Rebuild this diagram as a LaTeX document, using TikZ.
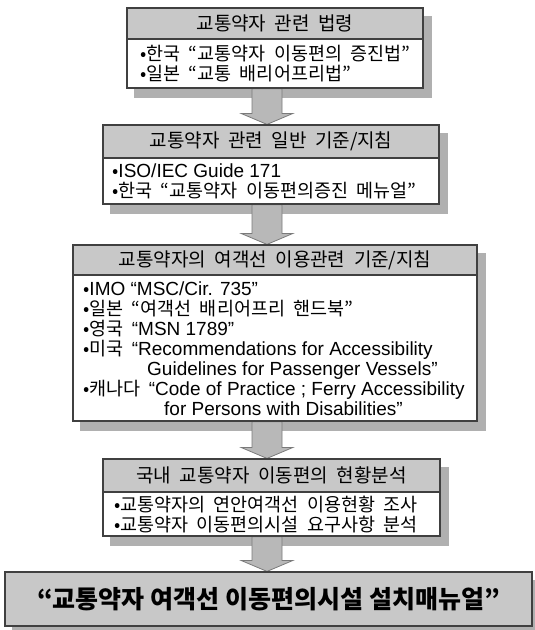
\documentclass[tikz,border=0pt]{standalone}
\usepackage{fontspec}
\setmainfont{Noto Sans CJK KR}
\newfontfamily\lat{Liberation Sans}
\usetikzlibrary{calc}
\pgfdeclarelayer{shadowlayer}
\pgfdeclarelayer{arrowlayer}
\pgfsetlayers{shadowlayer,arrowlayer,main}
\definecolor{headgray}{HTML}{C8C8C8}
\definecolor{shadowc}{HTML}{B0B0B0}
\definecolor{arrowfill}{HTML}{B8B8B8}
\definecolor{arrowedge}{HTML}{7A7A7A}
\definecolor{framecol}{HTML}{404040}
\newcommand{\lt}[1]{{\lat\fontsize{19}{20}\selectfont\spaceskip=0pt\relax #1}}
\newcommand{\korfont}[1]{\fontsize{#1}{20}\selectfont\spaceskip=0.45em plus 0.1em\relax}
\newcommand{\blockarr}[2]{%
  \draw[blockarrow]
    ($(ax |- #1.south)+(-15,0)$) --
    ($(ax |- #2.north)+(-15,-11)$) --
    ($(ax |- #2.north)+(-26,-11)$) --
    (ax |- #2.north) --
    ($(ax |- #2.north)+(26,-11)$) --
    ($(ax |- #2.north)+(15,-11)$) --
    ($(ax |- #1.south)+(15,0)$) -- cycle;}
\newcommand{\dropshadow}[2]{%
  \fill[shadowc] ($(#1.north west)+(8,9)$) rectangle ($(#2.south east)+(8,9)$);}
\begin{document}
\begin{tikzpicture}[x=1pt,y=-1pt,
  hdr/.style={draw=framecol, line width=1.2pt, fill=headgray, inner sep=0pt,
    font=\korfont{19}},
  bodybox/.style={draw=framecol, line width=1.2pt, fill=white, inner sep=0pt},
  bodytext/.style={anchor=west, align=left, inner sep=0pt,
    font=\korfont{18.5}},
  blockarrow/.style={fill=arrowfill, draw=arrowedge, line width=0.8pt, line join=miter},
  finalbox/.style={draw=framecol, line width=1.2pt, fill=headgray, inner sep=0pt,
    font=\fontsize{25}{30}\selectfont\bfseries}]
\useasboundingbox (0,0) rectangle (535,630);
\coordinate (ax) at (267,0);

% Box 1
\node[hdr, minimum width=296pt, minimum height=31pt] (h1) at (275,23.5) {교통약자 관련 법령};
\node[bodybox, minimum width=296pt, minimum height=49pt] (b1) at (275,63.5) {};
\node[bodytext] (t1) at (140,63.5) {•한국 “교통약자 이동편의 증진법”\\•일본 “교통 배리어프리법”};

% Box 2
\node[hdr, minimum width=336pt, minimum height=33pt] (h2) at (271,141.5) {교통약자 관련 일반 기준/지침};
\node[bodybox, minimum width=336pt, minimum height=46pt] (b2) at (271,181) {};
\node[bodytext] (t2) at (112,181) {•\lt{ISO/IEC Guide 171}\\•한국 “교통약자 이동편의증진 메뉴얼”};

% Box 3
\node[hdr, minimum width=404pt, minimum height=30pt] (h3) at (275,260) {교통약자의 여객선 이용관련 기준/지침};
\node[bodybox, minimum width=404pt, minimum height=146pt] (b3) at (275,348) {};
\node[bodytext] (t3) at (83,349) {%
  •\lt{IMO “MSC/Cir. 735”}\\
  •일본 “여객선 배리어프리 핸드북”\\
  •영국 \lt{“MSN 1789”}\\
  •미국 \lt{“Recommendations for Accessibility}\\
  \hspace*{64pt}\lt{Guidelines for Passenger Vessels”}\\
  •캐나다 \lt{“Code of Practice ; Ferry Accessibility}\\
  \hspace*{81pt}\lt{for Persons with Disabilities”}};

% Box 4
\node[hdr, minimum width=337pt, minimum height=33pt] (h4) at (271.5,475.5) {국내 교통약자 이동편의 현황분석};
\node[bodybox, minimum width=337pt, minimum height=44pt] (b4) at (271.5,514) {};
\node[bodytext] (t4) at (114,515) {•교통약자의 연안여객선 이용현황 조사\\•교통약자 이동편의시설 요구사항 분석};

% Box 5
\node[finalbox, minimum width=527pt, minimum height=54pt] (b5) at (268.5,599) {“교통약자 여객선 이동편의시설 설치매뉴얼”};

\begin{pgfonlayer}{shadowlayer}
  \dropshadow{h1}{b1}
  \dropshadow{h2}{b2}
  \dropshadow{h3}{b3}
  \dropshadow{h4}{b4}
  \dropshadow{b5}{b5}
\end{pgfonlayer}
\begin{pgfonlayer}{arrowlayer}
  \blockarr{b1}{h2}
  \blockarr{b2}{h3}
  \blockarr{b3}{h4}
  \blockarr{b4}{b5}
\end{pgfonlayer}
\end{tikzpicture}
\end{document}
